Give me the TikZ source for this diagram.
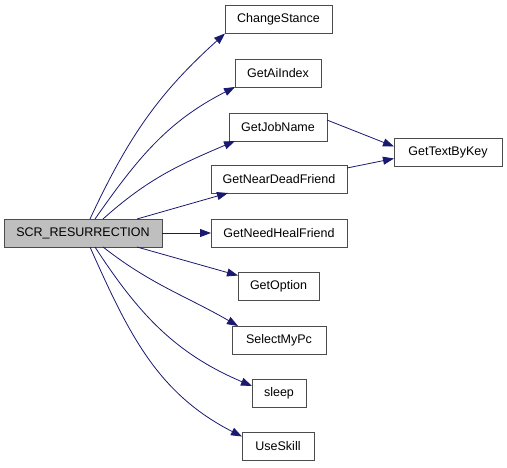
\documentclass[tikz,border=0pt]{standalone}
\usepackage{fontspec}
\setmainfont{Liberation Sans}
\usepackage{tikz}
\usetikzlibrary{arrows.meta}

\begin{document}
\begin{tikzpicture}[x=1pt,y=1pt,
  fn/.style={draw=black!70,fill=white,line width=0.8pt,inner sep=0pt,outer sep=0pt,
    minimum height=28pt,font=\fontsize{12.5}{15}\selectfont},
  call/.style={->,>={Triangle[length=11pt,width=8pt]},color=callColor,line width=0.8pt}]
\definecolor{callColor}{RGB}{25,25,112}
\definecolor{rootColor}{RGB}{191,191,191}
\useasboundingbox (0,0) rectangle (507,-467);
\node[fn,fill=rootColor,minimum width=158pt] (root) at (83,-233) {SCR\_RESURRECTION};
\foreach \n/\x/\y/\w/\t in {cs/278.5/-19.5/107/ChangeStance, ai/278/-73/86/GetAiIndex,
    jn/278/-127/98/GetJobName, nd/279/-179/136/GetNearDeadFriend,
    nh/279/-233/136/GetNeedHealFriend, tk/448/-152.5/108/GetTextByKey,
    op/278.5/-286.5/81/GetOption, smp/279/-340/94/SelectMyPc,
    sl/279/-393/54/sleep, us/278/-446.5/72/UseSkill}
  \node[fn,minimum width=\w pt] (\n) at (\x,\y) {\t};
% calls above
\draw[call] ([xshift=7pt]root.north) to[out=65,in=222] (cs.south west);
\draw[call] ([xshift=12pt]root.north) to[out=55,in=207] (ai.south west);
\draw[call] ([xshift=20pt]root.north) to[out=42,in=203] ([xshift=6pt]jn.south west);
\draw[call] ([xshift=54pt]root.north) -- ([xshift=17pt]nd.south west);
\draw[call] (root.east) -- (nh.west);
% calls below
\draw[call] ([xshift=54pt]root.south) -- ([yshift=-3pt]op.north west);
\draw[call] ([xshift=20pt]root.south) to[out=-38,in=150] ([xshift=6pt]smp.north west);
\draw[call] ([xshift=12pt]root.south) to[out=-57,in=157] ([yshift=-7pt]sl.north west);
\draw[call] ([xshift=7pt]root.south) to[out=-66,in=153] ([yshift=-4pt]us.north west);
% second level
\draw[call] ([yshift=7pt]jn.east) -- ([yshift=6pt]tk.west);
\draw[call] ([yshift=11pt]nd.east) -- ([yshift=-6pt]tk.west);
\end{tikzpicture}
\end{document}
